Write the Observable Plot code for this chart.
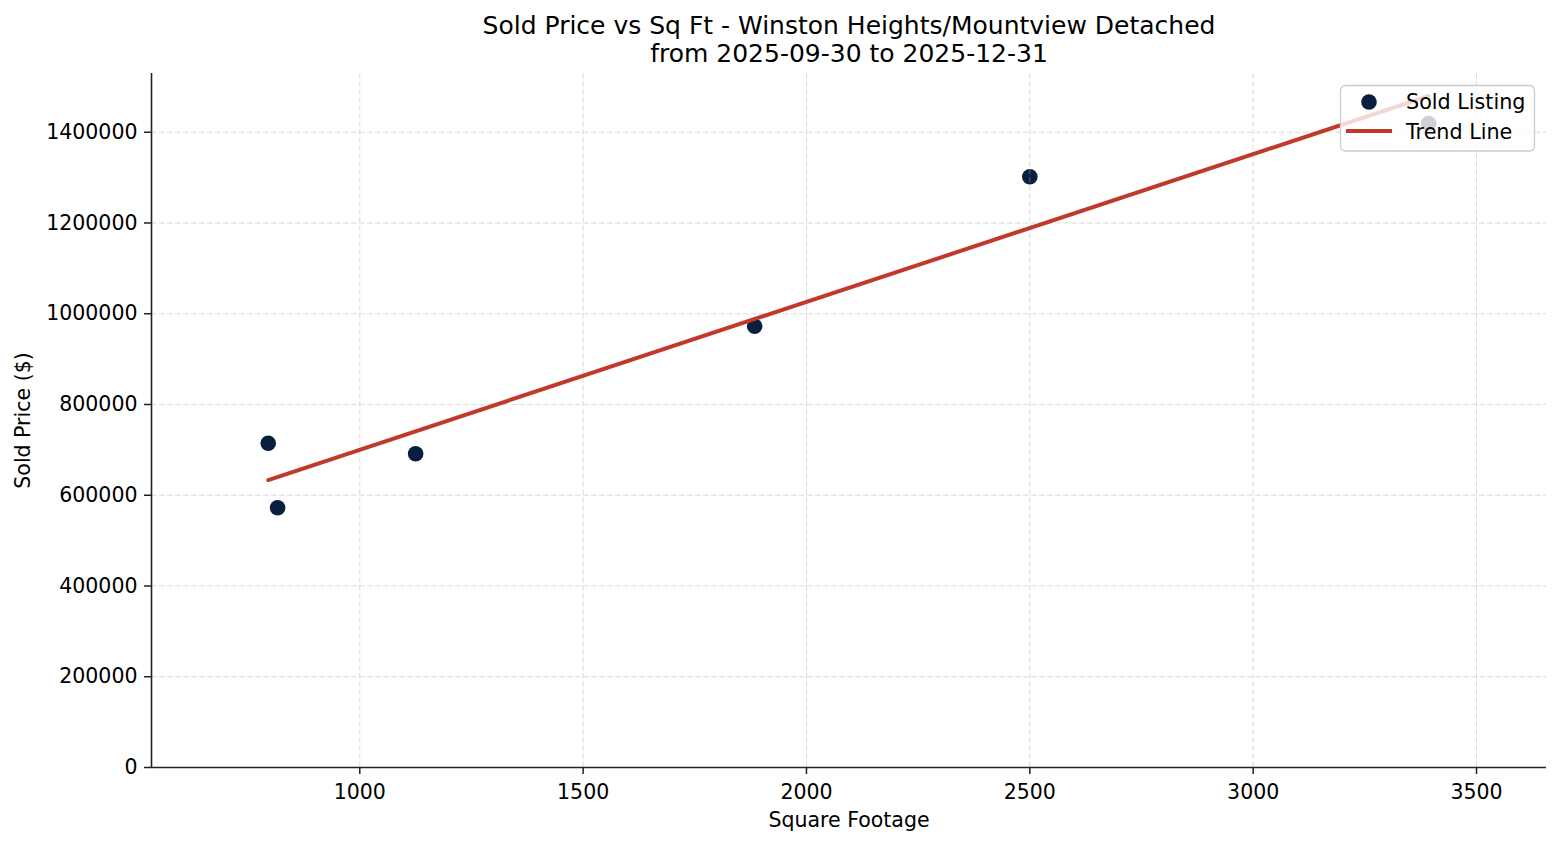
<!DOCTYPE html>
<html>
<head>
<meta charset="utf-8">
<script src="https://cdn.jsdelivr.net/npm/d3@7"></script>
<script src="https://cdn.jsdelivr.net/npm/@observablehq/plot@0.6"></script>
<style>
  html, body { margin: 0; padding: 0; background: #fff; }
  #wrap { position: relative; width: 1560px; height: 845px; }
  #legend { position: absolute; left: 0; top: 0; }
</style>
</head>
<body>
<div id="wrap"></div>
<script>
const titleLines = ["Sold Price vs Sq Ft - Winston Heights/Mountview Detached", "from 2025-09-30 to 2025-12-31"];
const xLabel = "Square Footage";
const yLabel = "Sold Price ($)";
const sqft = [795, 816, 1125, 1884, 2500, 3393];
const soldPrice = [714700, 572300, 691300, 972500, 1301700, 1419200];
const xTicks = [1000, 1500, 2000, 2500, 3000, 3500];
const yTicks = [0, 200000, 400000, 600000, 800000, 1000000, 1200000, 1400000];
const xDomain = [533.7, 3656.7];
const yDomain = [0, 1529400];
const legendLabels = ["Sold Listing", "Trend Line"];

const data = sqft.map((x, i) => ({x, y: soldPrice[i]}));
const dotColor = "#0a1f3d";
const lineColor = "#c0392b";
const font = "DejaVu Sans";
const gridStyle = {stroke: "#b0b0b0", strokeOpacity: 0.5, strokeWidth: 0.9, strokeDasharray: "5.5,2.5"};

const chart = Plot.plot({
  width: 1560,
  height: 845,
  marginLeft: 151,
  marginRight: 14,
  marginTop: 73,
  marginBottom: 78,
  style: {fontFamily: font, fontSize: "20.5px", color: "#000", background: "#fff", overflow: "visible"},
  x: {domain: xDomain, label: null},
  y: {domain: yDomain, label: null},
  marks: [
    Plot.dot(data, {x: "x", y: "y", r: 7.8, fill: dotColor, stroke: "none"}),
    Plot.gridX(xTicks, gridStyle),
    Plot.gridY(yTicks, gridStyle),
    Plot.linearRegressionY(data, {x: "x", y: "y", stroke: lineColor, strokeWidth: 4, ci: 0}),
    Plot.axisX(xTicks, {tickSize: 7, tickPadding: 9.5, stroke: "#222", strokeWidth: 1.5, fill: "#000", fontSize: 20.5, label: null, tickFormat: d => String(d)}),
    Plot.axisY(yTicks, {tickSize: 7, tickPadding: 7, stroke: "#222", strokeWidth: 1.5, fill: "#000", fontSize: 20.5, label: null, tickFormat: d => String(d)}),
    Plot.ruleX([xDomain[0]], {stroke: "#222", strokeWidth: 1.6}),
    Plot.ruleY([0], {stroke: "#222", strokeWidth: 1.6}),
    Plot.text([xLabel], {frameAnchor: "bottom", textAnchor: "middle", dy: 59, fontSize: 20.5, fill: "#000"}),
    Plot.text([yLabel], {frameAnchor: "left", textAnchor: "middle", lineAnchor: "middle", dx: -128, rotate: -90, fontSize: 20.5, fill: "#000"}),
    Plot.text([titleLines[0]], {frameAnchor: "top", textAnchor: "middle", dy: -57, fontSize: 25, fill: "#000"}),
    Plot.text([titleLines[1]], {frameAnchor: "top", textAnchor: "middle", dy: -29.5, fontSize: 25, fill: "#000"})
  ]
});
document.getElementById("wrap").appendChild(chart);

// legend overlay
const lg = d3.select("#wrap").append("svg")
  .attr("id", "legend")
  .attr("width", 1560).attr("height", 845)
  .style("font-family", font);
lg.append("rect")
  .attr("x", 1340.5).attr("y", 85.5).attr("width", 194).attr("height", 65.5)
  .attr("rx", 5).attr("ry", 5)
  .attr("fill", "#fff").attr("fill-opacity", 0.8)
  .attr("stroke", "#cccccc").attr("stroke-width", 1.3);
lg.append("circle").attr("cx", 1369).attr("cy", 102).attr("r", 7.8).attr("fill", dotColor);
lg.append("line").attr("x1", 1346).attr("x2", 1392).attr("y1", 131).attr("y2", 131)
  .attr("stroke", lineColor).attr("stroke-width", 4);
lg.append("text").attr("x", 1406).attr("y", 109).attr("font-size", 20.7).attr("fill", "#000").text(legendLabels[0]);
lg.append("text").attr("x", 1406).attr("y", 138.5).attr("font-size", 20.7).attr("fill", "#000").text(legendLabels[1]);
</script>
</body>
</html>
